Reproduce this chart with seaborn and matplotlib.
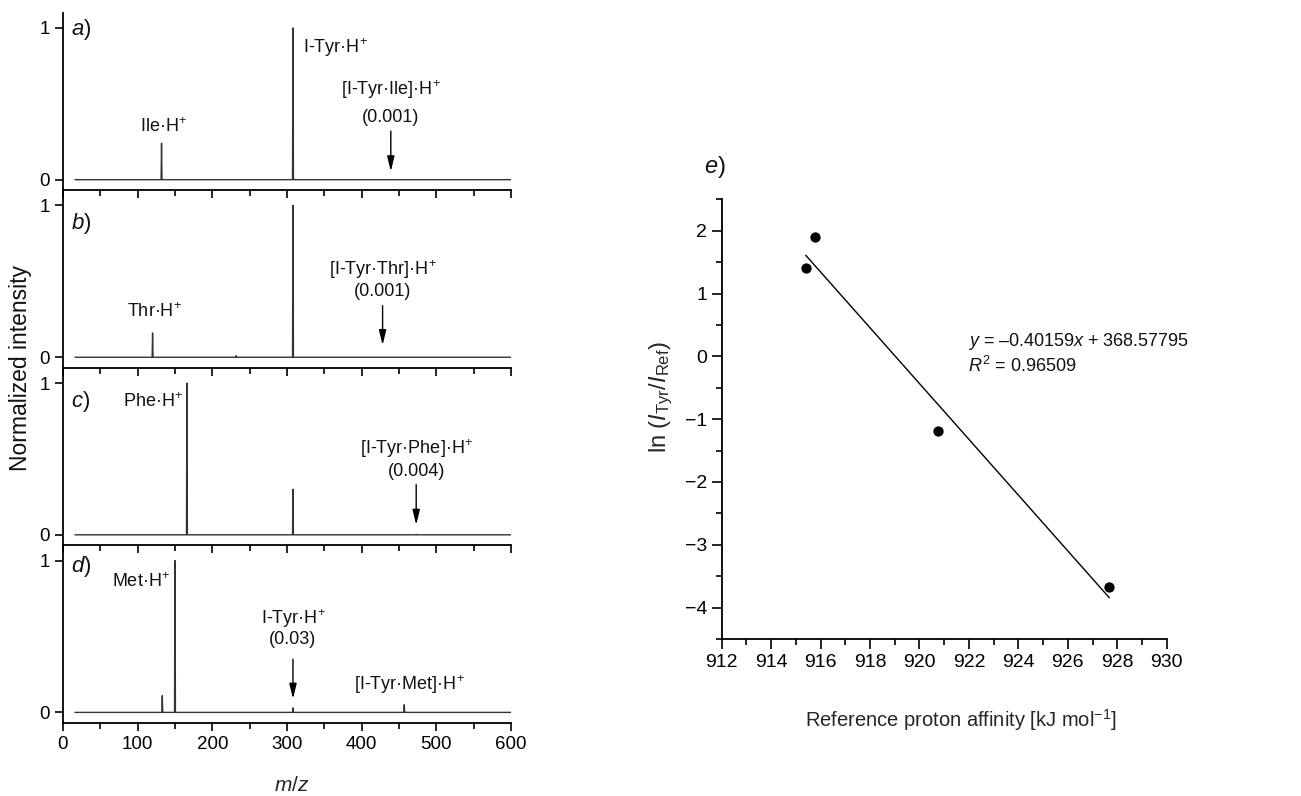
import numpy as np
import pandas as pd
import matplotlib
matplotlib.use('Agg')
import matplotlib.pyplot as plt
from matplotlib.ticker import MultipleLocator
import seaborn as sns

# peak positions (m/z) and normalized intensities for panels a-d
mz_a = [132, 308]
int_a = [0.24, 1.0]
mz_b = [120, 232, 308]
int_b = [0.16, 0.01, 1.0]
mz_c = [166, 308, 473]
int_c = [1.0, 0.30, 0.004]
mz_d = [133, 150, 308, 457]
int_d = [0.11, 1.0, 0.03, 0.05]
mz_range = [16, 600]

# m/z where the arrows point
arrow_mz = [439, 428, 473, 308]

# panel e: reference proton affinity vs ln(I_Tyr/I_Ref)
pa_ref = [915.4, 915.78, 920.73, 927.68]
ln_ratio = [1.41, 1.90, -1.19, -3.67]

sns.set_style('ticks')
plt.rcParams['font.family'] = ['Liberation Sans', 'DejaVu Sans']
plt.rcParams['mathtext.fontset'] = 'custom'
plt.rcParams['mathtext.rm'] = 'Liberation Sans'
plt.rcParams['mathtext.it'] = 'Liberation Sans:italic'
plt.rcParams['mathtext.bf'] = 'Liberation Sans:bold'
plt.rcParams['axes.linewidth'] = 1.3
plt.rcParams['xtick.major.width'] = 1.2
plt.rcParams['ytick.major.width'] = 1.2
plt.rcParams['xtick.minor.width'] = 1.2
plt.rcParams['ytick.minor.width'] = 1.2
plt.rcParams['axes.edgecolor'] = 'black'
plt.rcParams['xtick.color'] = 'black'
plt.rcParams['ytick.color'] = 'black'
plt.rcParams['text.color'] = '#111111'


def spectrum(mz, inten, w=0.6):
    xs = [mz_range[0]]
    ys = [0.0]
    for m, h in zip(mz, inten):
        xs += [m - w, m, m + w]
        ys += [0.0, h, 0.0]
    xs.append(mz_range[1])
    ys.append(0.0)
    return pd.DataFrame({'mz': xs, 'intensity': ys})


fig = plt.figure(figsize=(13.01, 7.96), dpi=100)
gs = fig.add_gridspec(4, 1, left=0.0484, right=0.3928, top=0.984, bottom=0.0917, hspace=0)
axes = [fig.add_subplot(gs[0])]
for i in range(1, 4):
    axes.append(fig.add_subplot(gs[i], sharex=axes[0]))

spectra = [(mz_a, int_a), (mz_b, int_b), (mz_c, int_c), (mz_d, int_d)]
for i, (ax, (mz, inten)) in enumerate(zip(axes, spectra)):
    df = spectrum(mz, inten)
    sns.lineplot(data=df, x='mz', y='intensity', ax=ax, estimator=None, sort=False,
                 color='#333333', lw=1.0)
    ax.set_facecolor('none')
    ax.set_xlim(0, 600)
    ax.set_ylim(-0.07, 1.1)
    ax.set_yticks([0, 1])
    ax.xaxis.set_major_locator(MultipleLocator(100))
    ax.xaxis.set_minor_locator(MultipleLocator(50))
    ax.tick_params(axis='both', which='major', direction='out', length=6, labelsize=13.5)
    ax.tick_params(axis='x', which='minor', direction='out', length=4)
    ax.set_xlabel('')
    ax.set_ylabel('')
    for s in ['top', 'right']:
        ax.spines[s].set_visible(False)
    if i < 3:
        ax.tick_params(axis='x', labelbottom=False)

arrow_kw = dict(arrowstyle='-|>,head_length=0.9,head_width=0.22', color='black', lw=1.0,
                shrinkA=0, shrinkB=0)
tsize = 13

# panel a
ax = axes[0]
ax.text(11, 0.99, r'$a$)', fontsize=16, va='center')
ax.text(134, 0.35, r'Ile·H$^{+}$', fontsize=tsize, ha='center', va='center')
ax.text(321, 0.87, r'I-Tyr·H$^{+}$', fontsize=tsize, ha='left', va='center')
ax.text(arrow_mz[0], 0.59, r'[I-Tyr·Ile]·H$^{+}$', fontsize=tsize, ha='center', va='center')
ax.text(arrow_mz[0], 0.41, '(0.001)', fontsize=tsize, ha='center', va='center')
ax.annotate('', xy=(arrow_mz[0], 0.055), xytext=(arrow_mz[0], 0.32), arrowprops=arrow_kw)

# panel b
ax = axes[1]
ax.text(11, 0.88, r'$b$)', fontsize=16, va='center')
ax.text(123, 0.30, r'Thr·H$^{+}$', fontsize=tsize, ha='center', va='center')
ax.text(arrow_mz[1], 0.58, r'[I-Tyr·Thr]·H$^{+}$', fontsize=tsize, ha='center', va='center')
ax.text(arrow_mz[1], 0.43, '(0.001)', fontsize=tsize, ha='center', va='center')
ax.annotate('', xy=(arrow_mz[1], 0.08), xytext=(arrow_mz[1], 0.34), arrowprops=arrow_kw)

# panel c
ax = axes[2]
ax.text(11, 0.88, r'$c$)', fontsize=16, va='center')
ax.text(121, 0.88, r'Phe·H$^{+}$', fontsize=tsize, ha='center', va='center')
ax.text(arrow_mz[2], 0.57, r'[I-Tyr·Phe]·H$^{+}$', fontsize=tsize, ha='center', va='center')
ax.text(arrow_mz[2], 0.42, '(0.004)', fontsize=tsize, ha='center', va='center')
ax.annotate('', xy=(arrow_mz[2], 0.066), xytext=(arrow_mz[2], 0.33), arrowprops=arrow_kw)

# panel d
ax = axes[3]
ax.text(11, 0.96, r'$d$)', fontsize=16, va='center')
ax.text(105, 0.86, r'Met·H$^{+}$', fontsize=tsize, ha='center', va='center')
ax.text(arrow_mz[3], 0.62, r'I-Tyr·H$^{+}$', fontsize=tsize, ha='center', va='center')
ax.text(arrow_mz[3], 0.48, '(0.03)', fontsize=tsize, ha='center', va='center')
ax.annotate('', xy=(arrow_mz[3], 0.09), xytext=(arrow_mz[3], 0.35), arrowprops=arrow_kw)
ax.text(464, 0.18, r'[I-Tyr·Met]·H$^{+}$', fontsize=tsize, ha='center', va='center')
ax.set_xlabel(r'$m$/$z$', fontsize=15)
ax.xaxis.set_label_coords(0.51, -0.30)

fig.text(21 / 1301, 1 - 368 / 796, 'Normalized intensity', rotation=90, fontsize=16.5,
         ha='center', va='center')

# panel e
axe = fig.add_axes([0.5547, 0.1972, 0.3421, 0.5524])
sns.regplot(x=pa_ref, y=ln_ratio, ax=axe, ci=None, color='black',
            scatter_kws={'s': 55, 'linewidths': 0, 'alpha': 1}, line_kws={'lw': 1.0})
axe.set_xlim(912, 930)
axe.set_ylim(-4.5, 2.5)
axe.xaxis.set_major_locator(MultipleLocator(2))
axe.xaxis.set_minor_locator(MultipleLocator(1))
axe.yaxis.set_major_locator(MultipleLocator(1))
axe.yaxis.set_minor_locator(MultipleLocator(0.5))
axe.tick_params(axis='both', which='major', direction='out', length=7, labelsize=14)
axe.tick_params(axis='both', which='minor', direction='out', length=4)
for s in ['top', 'right']:
    axe.spines[s].set_visible(False)
axe.set_xlabel(r'Reference proton affinity [kJ mol$^{-1}$]', fontsize=14.5)
axe.xaxis.set_label_coords(0.538, -0.155)
axe.set_ylabel(r'ln ($I_{\mathrm{Tyr}}$/$I_{\mathrm{Ref}}$)', fontsize=17)
axe.yaxis.set_label_coords(-0.105, 0.55)
axe.text(921.97, 0.24, r'$y$ = –0.40159$x$ + 368.57795', fontsize=13, va='center')
axe.text(921.97, -0.16, r'$R^{2}$ = 0.96509', fontsize=13, va='center')
fig.text(715 / 1301, 1 - 167 / 796, r'$e$)', fontsize=17, ha='center', va='center')

fig.savefig('out.png', dpi=100)
